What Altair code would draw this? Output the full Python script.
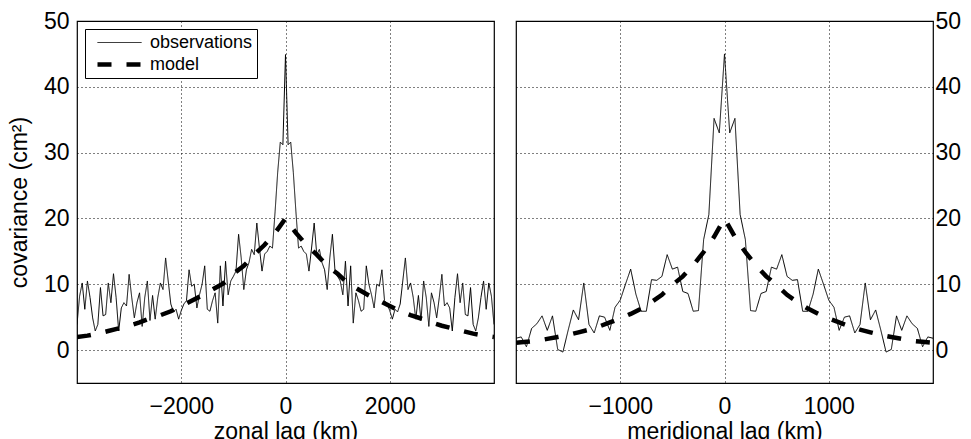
import altair as alt
import pandas as pd

# ---------------- data (curves are symmetric) ----------------
series_names = ["observations", "model"]

zonal_lag_half = list(range(0, 4001, 50))
zonal_obs_half = [
    44.9, 31.2, 31.6, 27.0, 21.0, 15.5, 15.8, 15.0, 14.6, 12.0,
    15.5, 19.3, 14.5, 15.3, 13.3, 12.2, 9.2, 14.0, 17.6, 12.0,
    11.2, 10.5, 8.4, 13.5, 6.7, 12.8, 4.1, 8.7, 7.5, 5.9,
    6.2, 12.8, 10.0, 8.4, 6.4, 10.0, 9.7, 12.2, 7.5, 7.0,
    6.0, 4.7, 6.2, 5.8, 7.0, 10.5, 14.0, 9.2, 10.2, 8.0,
    4.7, 8.3, 4.5, 10.5, 8.0, 3.6, 8.7, 7.2, 4.9, 8.0,
    11.5, 6.7, 7.2, 6.4, 2.9, 8.0, 11.6, 7.2, 10.2, 5.4,
    5.2, 9.5, 3.9, 2.9, 4.9, 8.0, 10.5, 6.2, 10.2, 8.2,
    3.9,
]
zonal_model_lag_half = list(range(0, 4001, 200))
zonal_model_half = [
    20.0, 17.8, 16.0, 14.5, 12.8, 11.6, 10.1, 9.2, 8.3, 7.5,
    6.7, 5.9, 5.3, 4.8, 4.2, 3.7, 3.3, 2.9, 2.5, 2.2, 2.0,
]

merid_lag_half = list(range(0, 2001, 50))
merid_obs_half = [
    45.0, 33.0, 35.2, 20.6, 16.8, 6.0, 5.9, 8.6, 8.9, 12.6,
    12.3, 14.5, 11.2, 10.6, 10.7, 5.9, 5.9, 8.5, 12.3, 10.0,
    7.6, 6.5, 3.0, 5.0, 5.2, 2.6, 3.9, 10.2, 4.6, 6.1,
    3.0, -0.3, 0.1, 5.2, 3.0, 5.2, 4.0, 3.3, 0.5, 2.0,
    1.8,
]
merid_model_lag_half = list(range(0, 2001, 100))
merid_model_half = [
    20.0, 17.2, 14.9, 12.9, 11.2, 9.9, 8.4, 7.3, 6.3, 5.5,
    4.8, 4.2, 3.6, 3.1, 2.7, 2.3, 2.0, 1.7, 1.4, 1.25, 1.1,
]

zonal_ticks = [-2000, 0, 2000]
merid_ticks = [-1000, 0, 1000]
cov_ticks = [0, 10, 20, 30, 40, 50]


def mirror(lags, vals):
    x = [-v for v in lags[::-1]] + lags[1:]
    y = vals[::-1] + vals[1:]
    return x, y


def frame(obs_lag, obs_val, mod_lag, mod_val):
    ox, oy = mirror(obs_lag, obs_val)
    mx, my = mirror(mod_lag, mod_val)
    d1 = pd.DataFrame({"lag": ox, "cov": oy, "series": series_names[0]})
    d2 = pd.DataFrame({"lag": mx, "cov": my, "series": series_names[1]})
    return pd.concat([d1, d2], ignore_index=True)


zonal_df = frame(zonal_lag_half, zonal_obs_half, zonal_model_lag_half, zonal_model_half)
merid_df = frame(merid_lag_half, merid_obs_half, merid_model_lag_half, merid_model_half)

FONT = "Liberation Sans"

# custom legend swatch: a 44 px line inside an 18 px legend slot
legend = alt.Legend(
    title=None,
    orient="top-left",
    offset=8,
    fillColor="white",
    strokeColor="black",
    padding=4,
    labelFont=FONT,
    labelFontSize=18,
    labelColor="black",
    labelOffset=38,
    symbolType="M-0.333,0L4.556,0",
    symbolSize=324,
    symbolStrokeColor="black",
    symbolFillColor="transparent",
    rowPadding=1,
)

dash_scale = alt.Scale(domain=series_names, range=[[1, 0], [14, 15]])
width_scale = alt.Scale(domain=series_names, range=[1, 4.5])
y_scale = alt.Scale(domain=[-5, 50], nice=False, zero=False)

left = alt.Chart(zonal_df).mark_line(clip=True, color="black").encode(
    x=alt.X("lag:Q", scale=alt.Scale(domain=[-4000, 4000], nice=False, zero=False),
            axis=alt.Axis(values=zonal_ticks, format="d", title="zonal lag (km)")),
    y=alt.Y("cov:Q", scale=y_scale,
            axis=alt.Axis(values=cov_ticks, title="covariance (cm²)", orient="left",
                          labelPadding=8, titlePadding=11.5)),
    strokeDash=alt.StrokeDash("series:N", scale=dash_scale, legend=legend),
    strokeWidth=alt.StrokeWidth("series:N", scale=width_scale, legend=legend),
).properties(width=417, height=362)

right = alt.Chart(merid_df).mark_line(clip=True, color="black").encode(
    x=alt.X("lag:Q", scale=alt.Scale(domain=[-2000, 2000], nice=False, zero=False),
            axis=alt.Axis(values=merid_ticks, format="d", title="meridional lag (km)")),
    y=alt.Y("cov:Q", scale=y_scale,
            axis=alt.Axis(values=cov_ticks, title=None, orient="right", labelPadding=2)),
    strokeDash=alt.StrokeDash("series:N", scale=dash_scale, legend=None),
    strokeWidth=alt.StrokeWidth("series:N", scale=width_scale, legend=None),
).properties(width=417, height=362)

chart = alt.hconcat(left, right, spacing=20).resolve_scale(
    x="independent", y="independent"
).properties(
    padding={"left": 0, "top": 1, "right": 0, "bottom": 0}
).configure_view(
    stroke="black", strokeWidth=1.2
).configure_axis(
    labelFont=FONT, titleFont=FONT, labelFontSize=23, titleFontSize=23,
    labelColor="black", titleColor="black", titleFontWeight="normal",
    grid=True, gridColor="black", gridDash=[1, 3], gridOpacity=1, gridWidth=1,
    domain=False, ticks=False, tickSize=0,
).configure_axisX(
    labelPadding=12, titlePadding=2,
)

chart.save("out.html", embed_options={"renderer": "svg", "actions": False})
